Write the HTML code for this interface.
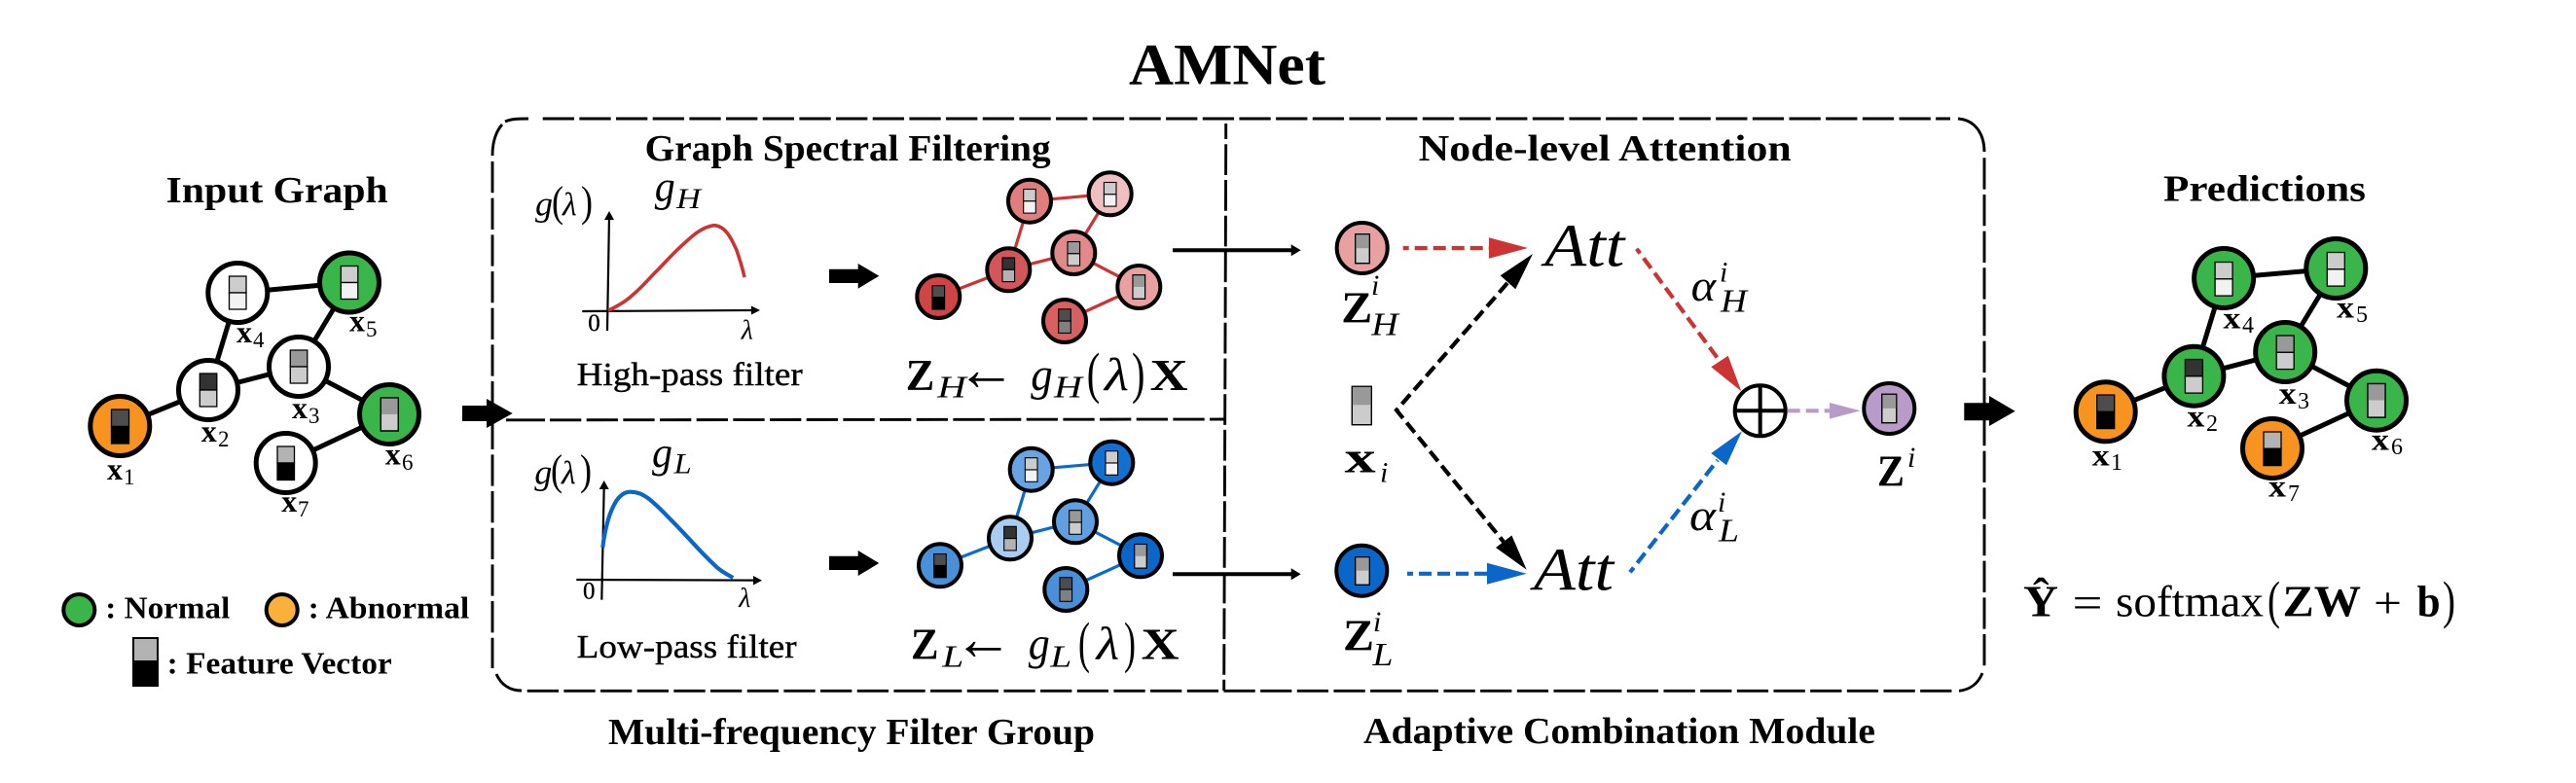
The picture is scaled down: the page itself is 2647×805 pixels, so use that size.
<!DOCTYPE html>
<html><head><meta charset="utf-8">
<style>
html,body{margin:0;padding:0;background:#fff;width:2647px;height:805px;overflow:hidden}
svg{display:block}
text{font-family:"Liberation Serif",serif;fill:#000}
.b{font-weight:bold}
.i{font-style:italic}
.n{fill:none;stroke:#000}
</style></head><body>
<svg width="2647" height="805" viewBox="0 0 2647 805" xmlns="http://www.w3.org/2000/svg">
<rect width="2647" height="805" fill="#fff"/>

<!-- Titles -->
<text class="b" x="1160" y="86.7" font-size="60" textLength="202" lengthAdjust="spacingAndGlyphs">AMNet</text>
<text class="b" x="170.7" y="208" font-size="38" textLength="228" lengthAdjust="spacingAndGlyphs">Input Graph</text>
<text class="b" x="662.7" y="165" font-size="38" textLength="417" lengthAdjust="spacingAndGlyphs">Graph Spectral Filtering</text>
<text class="b" x="1457.7" y="165" font-size="38" textLength="383" lengthAdjust="spacingAndGlyphs">Node-level Attention</text>
<text class="b" x="2223" y="206.7" font-size="38" textLength="208" lengthAdjust="spacingAndGlyphs">Predictions</text>
<text class="b" x="625" y="765" font-size="38" textLength="500" lengthAdjust="spacingAndGlyphs">Multi-frequency Filter Group</text>
<text class="b" x="1401" y="764" font-size="38" textLength="526" lengthAdjust="spacingAndGlyphs">Adaptive Combination Module</text>
<text x="592.7" y="396" font-size="34" textLength="232" lengthAdjust="spacingAndGlyphs" stroke="#000" stroke-width=".4">High-pass filter</text>
<text x="592.7" y="676" font-size="34" textLength="226" lengthAdjust="spacingAndGlyphs" stroke="#000" stroke-width=".4">Low-pass filter</text>

<!-- Dashed frame -->
<g class="n" fill="none" stroke="#000" stroke-width="2.9">
<path d="M557.7 122H2004" stroke-dasharray="32.3 5.37"/>
<path d="M506 160C506 146 509 136 516 128"/>
<path d="M519 125C526 122 533 122 543 122"/>
<path d="M506 166V687" stroke-dasharray="32.3 5.37"/>
<path d="M510 693C515 704 524 710 536 710"/>
<path d="M541.7 710.3H2008" stroke-dasharray="32.3 5.37"/>
<path d="M2013 710.3C2025 709 2033 702 2037 692"/>
<path d="M2039 162.3V686" stroke-dasharray="32.3 5.37"/>
<path d="M2012 122C2028 123 2039 136 2039 156"/>
<path d="M520 431.8H560" />
<path d="M565 431.8L1258 431" stroke-dasharray="32.3 5.37"/>
<path d="M1259.7 127V143"/>
<path d="M1259.7 148.3L1257.7 710" stroke-dasharray="31.7 5"/>
</g>

<!-- Input graph -->
<g stroke="#000" stroke-width="5" fill="none">
<path d="M123.3 438L214 401L307 377L400 426L293.7 476M214 401L244.3 301L359 290.5L307 377"/>
</g>
<g stroke="#000" stroke-width="5">
<circle cx="123.3" cy="438" r="30.5" fill="#f7931e"/>
<circle cx="214" cy="401" r="30.5" fill="#fff"/>
<circle cx="307" cy="377" r="30.5" fill="#fff"/>
<circle cx="244.3" cy="301" r="30.5" fill="#fff"/>
<circle cx="359" cy="290.5" r="30.5" fill="#39b54a"/>
<circle cx="400" cy="426" r="30.5" fill="#39b54a"/>
<circle cx="293.7" cy="476" r="30.5" fill="#fff"/>
</g>
<g stroke="#000" stroke-width="1.3">
<rect x="114.5" y="421" width="18" height="17.5" fill="#4d4d4d"/><rect x="114.5" y="438.5" width="18" height="17.5" fill="#000"/>
<rect x="205.3" y="384" width="17.5" height="17" fill="#333"/><rect x="205.3" y="401" width="17.5" height="17" fill="#ccc"/>
<rect x="298.3" y="360" width="17.5" height="17" fill="#999"/><rect x="298.3" y="377" width="17.5" height="17" fill="#ccc"/>
<rect x="235.5" y="284" width="17.5" height="17" fill="#ccc"/><rect x="235.5" y="301" width="17.5" height="17" fill="#f2f2f2"/>
<rect x="350.3" y="273.5" width="17.5" height="17" fill="#ccc"/><rect x="350.3" y="290.5" width="17.5" height="17" fill="#f2f2f2"/>
<rect x="391.3" y="409" width="18" height="34" fill="#ccc"/><rect x="391.3" y="409" width="18" height="17" fill="#999" stroke="none"/><rect x="391.3" y="409" width="18" height="34" fill="none"/>
<rect x="285" y="459" width="17.5" height="17" fill="#b3b3b3"/><rect x="285" y="476" width="17.5" height="17.5" fill="#000"/>
</g>
<g font-size="32">
<text class="b" x="110" y="492.8" textLength="16" lengthAdjust="spacingAndGlyphs">x</text><text x="127" y="498" font-size="23">1</text>
<text class="b" x="206.7" y="454" textLength="16" lengthAdjust="spacingAndGlyphs">x</text><text x="224" y="459" font-size="23">2</text>
<text class="b" x="300" y="430" textLength="16" lengthAdjust="spacingAndGlyphs">x</text><text x="317" y="435" font-size="23">3</text>
<text class="b" x="243" y="352" textLength="16" lengthAdjust="spacingAndGlyphs">x</text><text x="260" y="357" font-size="23">4</text>
<text class="b" x="359" y="340.5" textLength="16" lengthAdjust="spacingAndGlyphs">x</text><text x="376" y="346" font-size="23">5</text>
<text class="b" x="395.7" y="477.3" textLength="16" lengthAdjust="spacingAndGlyphs">x</text><text x="413" y="483" font-size="23">6</text>
<text class="b" x="289.3" y="526" textLength="16" lengthAdjust="spacingAndGlyphs">x</text><text x="306" y="531" font-size="23">7</text>
</g>

<!-- Legend -->
<circle cx="81.3" cy="627" r="16" fill="#39b54a" stroke="#000" stroke-width="4"/>
<circle cx="289.7" cy="627" r="16" fill="#fbb03b" stroke="#000" stroke-width="4"/>
<text class="b" x="108.3" y="635.7" font-size="32" textLength="128" lengthAdjust="spacingAndGlyphs">: Normal</text>
<text class="b" x="316.7" y="635.7" font-size="32" textLength="165.6" lengthAdjust="spacingAndGlyphs">: Abnormal</text>
<rect x="136" y="655" width="27" height="25" fill="#b3b3b3"/>
<rect x="136" y="679.6" width="27" height="26.4" fill="#000"/>
<path d="M137 656H162V680H137Z" fill="none" stroke="#000" stroke-width="2"/>
<text class="b" x="171.7" y="692.5" font-size="32" textLength="231" lengthAdjust="spacingAndGlyphs">: Feature Vector</text>

<!-- Block arrows -->
<path d="M475 417H500V410L526.7 425L500 440V433H475Z" fill="#000"/>
<path d="M852 276.7H881.7V271L903.3 283.7L881.7 296.7V291H852Z" fill="#000"/>
<path d="M852 571.8H881.7V566L903.3 579L881.7 592V586H852Z" fill="#000"/>
<path d="M2018.3 414.3H2044V407L2070.7 422.7L2044 438V432.3H2018.3Z" fill="#000"/>

<!-- High pass plot -->
<g class="n" stroke-width="2.2">
<path d="M624 340L626 222"/>
<path d="M598.3 320L775 319"/>
</g>
<path d="M626 217L631 226H621Z" fill="#000"/>
<path d="M781 319L772 314.5V323.5Z" fill="#000"/>
<path d="M625 319.3C634 315 643 310 650 303.3C660 295 668 285 676.7 276.7C685 268 694 258 703.3 250C711 243 720 234 733.3 231.7C745 232 751 244 756.7 256.7C760 266 763 276 765 285" fill="none" stroke="#cc3333" stroke-width="3.6"/>
<text x="604.3" y="340" font-size="25" stroke="#000" stroke-width=".3">0</text>
<text class="i" x="761.7" y="348.3" font-size="28">λ</text>
<text class="i" x="550" y="221.7" font-size="36">g</text><text x="567" y="222" font-size="44" textLength="12" lengthAdjust="spacingAndGlyphs">(</text><text class="i" x="578" y="221.7" font-size="34">λ</text><text x="597" y="222" font-size="44" textLength="12" lengthAdjust="spacingAndGlyphs">)</text>
<text class="i" x="672.7" y="206.7" font-size="44" textLength="21" lengthAdjust="spacingAndGlyphs">g</text>
<text class="i" x="695" y="214" font-size="30" textLength="25" lengthAdjust="spacingAndGlyphs">H</text>

<!-- Low pass plot -->
<g class="n" stroke-width="2.2">
<path d="M618.3 616.7L620.7 500"/>
<path d="M592.3 596L776 596.6"/>
</g>
<path d="M620.7 494L625.7 503H615.7Z" fill="#000"/>
<path d="M783 596.7L774 592V601.5Z" fill="#000"/>
<path d="M619.3 562.7C621 549 625 528 633.3 515C638 508 643 505.5 648 505.7C656 506 660 508 667 513C678 522 684 529 690 535C700 545 708 554 716.7 563.3C724 571 730 577 736.7 583.3C742 588 748 591 753.3 594" fill="none" stroke="#0a66c8" stroke-width="4.2"/>
<text x="599" y="615.7" font-size="25" stroke="#000" stroke-width=".3">0</text>
<text class="i" x="759.3" y="624" font-size="28">λ</text>
<text class="i" x="549.3" y="497.3" font-size="36">g</text><text x="566" y="498" font-size="44" textLength="12" lengthAdjust="spacingAndGlyphs">(</text><text class="i" x="577" y="497.3" font-size="34">λ</text><text x="596" y="498" font-size="44" textLength="12" lengthAdjust="spacingAndGlyphs">)</text>
<text class="i" x="670" y="480" font-size="44" textLength="21" lengthAdjust="spacingAndGlyphs">g</text>
<text class="i" x="692.7" y="486.7" font-size="30" textLength="18" lengthAdjust="spacingAndGlyphs">L</text>

<!-- High graph -->
<g stroke="#cc3333" stroke-width="3.2" fill="none">
<path d="M964.3 305L1036.3 277.3L1103.3 260L1170.3 295L1094 330M1036.3 277.3L1058 206.7L1140.7 199.3L1103.3 260"/>
</g>
<g stroke="#000" stroke-width="4">
<circle cx="964.3" cy="305" r="22" fill="#cf4444"/>
<circle cx="1036.3" cy="277.3" r="22" fill="#d4555a"/>
<circle cx="1103.3" cy="260" r="22" fill="#e28a8a"/>
<circle cx="1058" cy="206.7" r="22" fill="#e07d7d"/>
<circle cx="1140.7" cy="199.3" r="22" fill="#f0c0c0"/>
<circle cx="1170.3" cy="295" r="22" fill="#e8a0a0"/>
<circle cx="1094" cy="330" r="22" fill="#d96060"/>
</g>
<g stroke="#000" stroke-width="1.1">
<rect x="958" y="293.7" width="12.6" height="12" fill="#4d4d4d"/><rect x="958" y="305.7" width="12.6" height="12.3" fill="#000"/>
<rect x="1030" y="265" width="12.6" height="12.3" fill="#333"/><rect x="1030" y="277.3" width="12.6" height="12.3" fill="#b3b3b3"/>
<rect x="1097" y="248.5" width="12.6" height="12.3" fill="#999"/><rect x="1097" y="260.8" width="12.6" height="12.3" fill="#ccc"/>
<rect x="1051.7" y="194.5" width="12.6" height="12.3" fill="#ccc"/><rect x="1051.7" y="206.8" width="12.6" height="12.3" fill="#f2f2f2"/>
<rect x="1134.4" y="187.5" width="12.6" height="12.3" fill="#ccc"/><rect x="1134.4" y="199.8" width="12.6" height="12.3" fill="#f2f2f2"/>
<rect x="1164" y="282.7" width="12.6" height="24.6" fill="#ccc"/><rect x="1164" y="282.7" width="12.6" height="12.3" fill="#999" stroke="none"/><rect x="1164" y="282.7" width="12.6" height="24.6" fill="none"/>
<rect x="1087.7" y="317.8" width="12.6" height="12.3" fill="#4d4d4d"/><rect x="1087.7" y="330.1" width="12.6" height="12.3" fill="#808080"/>
</g>

<!-- Low graph -->
<g stroke="#0b6ad0" stroke-width="3.2" fill="none">
<path d="M966 581.3L1038 553.3L1105 536.3L1172 571.3L1095.3 606M1038 553.3L1059.7 482.7L1142.3 475.7L1105 536.3"/>
</g>
<g stroke="#000" stroke-width="4">
<circle cx="966" cy="581.3" r="22" fill="#4a90d9"/>
<circle cx="1038" cy="553.3" r="22" fill="#a9ccf0"/>
<circle cx="1105" cy="536.3" r="22" fill="#619fe0"/>
<circle cx="1059.7" cy="482.7" r="22" fill="#68a3e3"/>
<circle cx="1142.3" cy="475.7" r="22" fill="#1270d0"/>
<circle cx="1172" cy="571.3" r="22" fill="#0a66c8"/>
<circle cx="1095.3" cy="606" r="22" fill="#4a8fd8"/>
</g>
<g stroke="#000" stroke-width="1.1">
<rect x="959.7" y="569.5" width="12.6" height="12" fill="#4d4d4d"/><rect x="959.7" y="581.5" width="12.6" height="12.3" fill="#000"/>
<rect x="1031.7" y="541.3" width="12.6" height="12.3" fill="#333"/><rect x="1031.7" y="553.6" width="12.6" height="12.3" fill="#b3b3b3"/>
<rect x="1098.7" y="524.7" width="12.6" height="12.3" fill="#999"/><rect x="1098.7" y="537" width="12.6" height="12.3" fill="#ccc"/>
<rect x="1053.4" y="470.7" width="12.6" height="12.3" fill="#ccc"/><rect x="1053.4" y="483" width="12.6" height="12.3" fill="#f2f2f2"/>
<rect x="1136" y="463.7" width="12.6" height="12.3" fill="#ccc"/><rect x="1136" y="476" width="12.6" height="12.3" fill="#f2f2f2"/>
<rect x="1165.7" y="559.5" width="12.6" height="24.6" fill="#ccc"/><rect x="1165.7" y="559.5" width="12.6" height="12.3" fill="#999" stroke="none"/><rect x="1165.7" y="559.5" width="12.6" height="24.6" fill="none"/>
<rect x="1089" y="593.7" width="12.6" height="12.3" fill="#4d4d4d"/><rect x="1089" y="606" width="12.6" height="12.3" fill="#808080"/>
</g>

<!-- Formulas high -->
<text class="b" x="930.7" y="401" font-size="46" textLength="29.5" lengthAdjust="spacingAndGlyphs">Z</text>
<text class="i" x="963.3" y="408.3" font-size="32" textLength="29.5" lengthAdjust="spacingAndGlyphs">H</text>
<text x="983" y="401" font-size="64" textLength="61" lengthAdjust="spacingAndGlyphs">←</text>
<text class="i" x="1059.3" y="401" font-size="48" textLength="22.5" lengthAdjust="spacingAndGlyphs">g</text>
<text class="i" x="1083" y="408.3" font-size="32" textLength="29" lengthAdjust="spacingAndGlyphs">H</text>
<text x="1116.7" y="403" font-size="58" textLength="13.5" lengthAdjust="spacingAndGlyphs">(</text>
<text class="i" x="1135" y="401" font-size="48" textLength="25" lengthAdjust="spacingAndGlyphs">λ</text>
<text x="1163" y="403" font-size="58" textLength="13.5" lengthAdjust="spacingAndGlyphs">)</text>
<text class="b" x="1181.7" y="401" font-size="46" textLength="39" lengthAdjust="spacingAndGlyphs">X</text>

<!-- Formulas low -->
<text class="b" x="936" y="677.7" font-size="46" textLength="28.5" lengthAdjust="spacingAndGlyphs">Z</text>
<text class="i" x="968.3" y="685.7" font-size="32" textLength="22" lengthAdjust="spacingAndGlyphs">L</text>
<text x="980" y="678" font-size="64" textLength="61" lengthAdjust="spacingAndGlyphs">←</text>
<text class="i" x="1056.7" y="677.7" font-size="48" textLength="22" lengthAdjust="spacingAndGlyphs">g</text>
<text class="i" x="1079.3" y="685.7" font-size="32" textLength="22" lengthAdjust="spacingAndGlyphs">L</text>
<text x="1108" y="680" font-size="58" textLength="12" lengthAdjust="spacingAndGlyphs">(</text>
<text class="i" x="1126.7" y="677.7" font-size="48" textLength="23.5" lengthAdjust="spacingAndGlyphs">λ</text>
<text x="1155" y="680" font-size="58" textLength="12" lengthAdjust="spacingAndGlyphs">)</text>
<text class="b" x="1172.7" y="677.7" font-size="46" textLength="39" lengthAdjust="spacingAndGlyphs">X</text>

<!-- Long arrows -->
<path d="M1205 257.3H1328" stroke="#000" stroke-width="4" fill="none"/>
<path d="M1336.7 257.3L1326.7 251.3V263.3Z" fill="#000"/>
<path d="M1205 590.3H1328" stroke="#000" stroke-width="4" fill="none"/>
<path d="M1336.7 590.3L1326.7 584.3V596.3Z" fill="#000"/>

<!-- Attention nodes -->
<g stroke="#000" stroke-width="4">
<circle cx="1399.7" cy="255" r="26" fill="#e8a0a0"/>
<circle cx="1399.3" cy="586.7" r="26" fill="#0a66c8"/>
<circle cx="1941.3" cy="420" r="26" fill="#b89bc9"/>
<circle cx="1808.7" cy="422.3" r="26" fill="#fff"/>
<path d="M1782 422.3H1835M1808.7 396V449" fill="none"/>
</g>
<g stroke="#000" stroke-width="1.2">
<rect x="1392.7" y="240.7" width="14.6" height="30" fill="#ccc"/><rect x="1392.7" y="240.7" width="14.6" height="14.5" fill="#999" stroke="none"/><rect x="1392.7" y="240.7" width="14.6" height="30" fill="none"/>
<rect x="1392.7" y="572.7" width="14.6" height="28.6" fill="#ccc"/><rect x="1392.7" y="572.7" width="14.6" height="14" fill="#999" stroke="none"/><rect x="1392.7" y="572.7" width="14.6" height="28.6" fill="none"/>
<rect x="1389.3" y="397.3" width="20" height="39.4" fill="#ccc"/><rect x="1389.3" y="397.3" width="20" height="19" fill="#999" stroke="none"/><rect x="1389.3" y="397.3" width="20" height="39.4" fill="none"/>
<rect x="1933.8" y="405.3" width="15" height="29.4" fill="#ccc"/><rect x="1933.8" y="405.3" width="15" height="14.5" fill="#999" stroke="none"/><rect x="1933.8" y="405.3" width="15" height="29.4" fill="none"/>
</g>

<!-- Attention labels -->
<text class="b" x="1378.3" y="331.7" font-size="46" textLength="32" lengthAdjust="spacingAndGlyphs">Z</text>
<text class="i" x="1409" y="303" font-size="30">i</text>
<text class="i" x="1409.3" y="344.3" font-size="34" textLength="27.5" lengthAdjust="spacingAndGlyphs">H</text>
<text class="b" x="1380" y="668.3" font-size="46" textLength="32" lengthAdjust="spacingAndGlyphs">Z</text>
<text class="i" x="1411" y="649" font-size="30">i</text>
<text class="i" x="1410.5" y="683.8" font-size="34" textLength="21" lengthAdjust="spacingAndGlyphs">L</text>
<text class="b" x="1381.7" y="485.7" font-size="46" textLength="32" lengthAdjust="spacingAndGlyphs">x</text>
<text class="i" x="1418" y="495.4" font-size="30">i</text>
<text class="b" x="1929" y="499.3" font-size="46" textLength="28" lengthAdjust="spacingAndGlyphs">Z</text>
<text class="i" x="1960" y="480" font-size="30">i</text>
<text class="i" x="1587.3" y="273.3" font-size="62" textLength="82" lengthAdjust="spacingAndGlyphs">Att</text>
<text class="i" x="1576" y="606.7" font-size="62" textLength="82" lengthAdjust="spacingAndGlyphs">Att</text>
<text class="i" x="1737.7" y="309" font-size="46" textLength="25.5" lengthAdjust="spacingAndGlyphs">α</text>
<text class="i" x="1767" y="289.3" font-size="30">i</text>
<text class="i" x="1768" y="320.7" font-size="34" textLength="27" lengthAdjust="spacingAndGlyphs">H</text>
<text class="i" x="1736" y="545" font-size="46" textLength="27" lengthAdjust="spacingAndGlyphs">α</text>
<text class="i" x="1765" y="526" font-size="30">i</text>
<text class="i" x="1766" y="556.7" font-size="34" textLength="21" lengthAdjust="spacingAndGlyphs">L</text>

<!-- Dashed arrows -->
<g fill="none" stroke-width="4.2" stroke-dasharray="13 6">
<path d="M1441.7 255H1530" stroke="#cc3333" stroke-dashoffset="7"/>
<path d="M1446 589.8H1528" stroke="#0a66c8" stroke-dashoffset="7"/>
<path d="M1681.7 255.7L1767 371" stroke="#cc3333" stroke-dashoffset="7"/>
<path d="M1675 588.3L1765 473" stroke="#0a66c8" stroke-dashoffset="7"/>
<path d="M1836.7 422.3H1880" stroke="#b89bc9"/>
<path d="M1549 291L1435 421.7L1545 557" stroke="#000"/>
</g>
<path d="M1570 255L1530 244.2V265.8Z" fill="#cc3333"/>
<path d="M1568.7 589.8L1528 578.8V600.8Z" fill="#0a66c8"/>
<path d="M1789.3 402.3L1775.7 365.7L1758.3 377.3Z" fill="#cc3333"/>
<path d="M1790 443.3L1758.3 466L1774 478.3Z" fill="#0a66c8"/>
<path d="M1911.7 422.3L1880 414V430.6Z" fill="#b89bc9"/>
<path d="M1575 261L1541.7 283.3L1557.3 297.3Z" fill="#000"/>
<path d="M1568.7 585.8L1553.4 550.5L1537 563Z" fill="#000"/>

<!-- Prediction graph -->
<g stroke="#000" stroke-width="5" fill="none">
<path d="M2163.7 423.3L2254.4 386.7L2348.2 362L2442 411.7L2335 461M2254.4 386.7L2285.1 286L2400.3 276L2348.2 362"/>
</g>
<g stroke="#000" stroke-width="5">
<circle cx="2163.7" cy="423.3" r="30.5" fill="#f7931e"/>
<circle cx="2254.4" cy="386.7" r="30.5" fill="#39b54a"/>
<circle cx="2348.2" cy="362" r="30.5" fill="#39b54a"/>
<circle cx="2285.1" cy="286" r="30.5" fill="#39b54a"/>
<circle cx="2400.3" cy="276" r="30.5" fill="#39b54a"/>
<circle cx="2442" cy="411.7" r="30.5" fill="#39b54a"/>
<circle cx="2335" cy="461" r="30.5" fill="#f7931e"/>
</g>
<g stroke="#000" stroke-width="1.3">
<rect x="2154.7" y="406" width="18" height="17.3" fill="#4d4d4d"/><rect x="2154.7" y="423.3" width="18" height="17.3" fill="#000"/>
<rect x="2245.4" y="369.5" width="18" height="17.3" fill="#333"/><rect x="2245.4" y="386.8" width="18" height="17.3" fill="#ccc"/>
<rect x="2339.2" y="345" width="18" height="17.3" fill="#999"/><rect x="2339.2" y="362.3" width="18" height="17.3" fill="#ccc"/>
<rect x="2276.1" y="269.5" width="18" height="17.3" fill="#ccc"/><rect x="2276.1" y="286.8" width="18" height="17.3" fill="#f2f2f2"/>
<rect x="2391.3" y="259.5" width="18" height="17.3" fill="#ccc"/><rect x="2391.3" y="276.8" width="18" height="17.3" fill="#f2f2f2"/>
<rect x="2433" y="394.5" width="18" height="34.6" fill="#ccc"/><rect x="2433" y="394.5" width="18" height="17" fill="#999" stroke="none"/><rect x="2433" y="394.5" width="18" height="34.6" fill="none"/>
<rect x="2326" y="444" width="18" height="17.3" fill="#b3b3b3"/><rect x="2326" y="461.3" width="18" height="17.3" fill="#000"/>
</g>
<g font-size="32">
<text class="b" x="2149.7" y="478.3" textLength="18" lengthAdjust="spacingAndGlyphs">x</text><text x="2169" y="483" font-size="24">1</text>
<text class="b" x="2247.4" y="438.3" textLength="18" lengthAdjust="spacingAndGlyphs">x</text><text x="2267" y="443" font-size="24">2</text>
<text class="b" x="2341.6" y="415" textLength="18" lengthAdjust="spacingAndGlyphs">x</text><text x="2361" y="420" font-size="24">3</text>
<text class="b" x="2284.4" y="337.3" textLength="18" lengthAdjust="spacingAndGlyphs">x</text><text x="2304" y="342" font-size="24">4</text>
<text class="b" x="2401" y="326.7" textLength="18" lengthAdjust="spacingAndGlyphs">x</text><text x="2421" y="331" font-size="24">5</text>
<text class="b" x="2436.9" y="462.7" textLength="18" lengthAdjust="spacingAndGlyphs">x</text><text x="2457" y="467" font-size="24">6</text>
<text class="b" x="2331" y="510.7" textLength="18" lengthAdjust="spacingAndGlyphs">x</text><text x="2351" y="515" font-size="24">7</text>
</g>

<!-- Softmax formula -->
<text class="b" x="2079" y="633.3" font-size="46" textLength="36" lengthAdjust="spacingAndGlyphs">Ŷ</text>
<text x="2129.5" y="635" font-size="46" textLength="31" lengthAdjust="spacingAndGlyphs">=</text>
<text x="2174" y="633.3" font-size="46" textLength="152" lengthAdjust="spacingAndGlyphs">softmax</text>
<text x="2330" y="635" font-size="54" textLength="13" lengthAdjust="spacingAndGlyphs">(</text>
<text class="b" x="2345.5" y="633.3" font-size="46" textLength="80.5" lengthAdjust="spacingAndGlyphs">ZW</text>
<text x="2439" y="635" font-size="46" textLength="29" lengthAdjust="spacingAndGlyphs">+</text>
<text class="b" x="2483.6" y="633.3" font-size="46" textLength="24" lengthAdjust="spacingAndGlyphs">b</text>
<text x="2510" y="635" font-size="54" textLength="13" lengthAdjust="spacingAndGlyphs">)</text>
</svg>
</body></html>
